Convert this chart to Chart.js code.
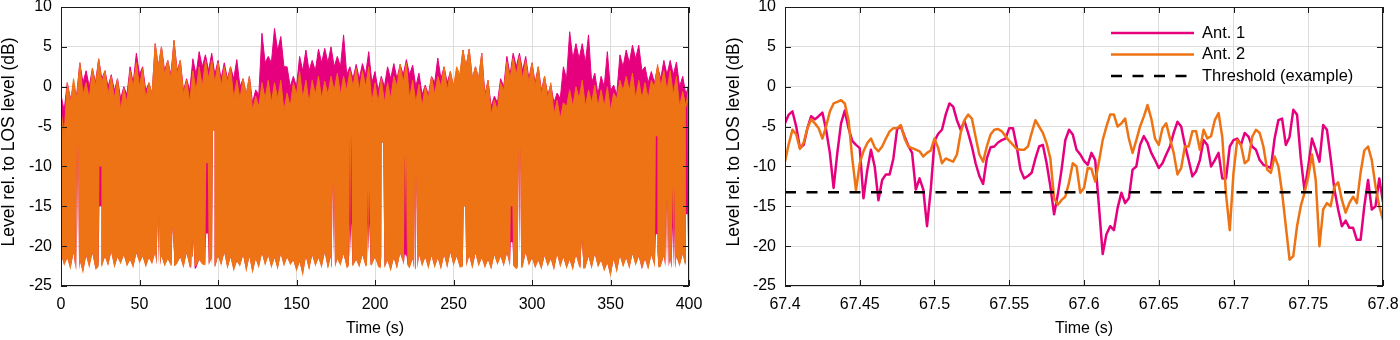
<!DOCTYPE html>
<html>
<head>
<meta charset="utf-8">
<script src="https://cdn.jsdelivr.net/npm/chart.js@4.4.1/dist/chart.umd.min.js"></script>
<style>
  html, body { margin: 0; padding: 0; background: #fff; }
  #wrap { position: relative; width: 1400px; height: 340px; }
  .panel { position: absolute; top: 0; height: 340px; }
</style>
</head>
<body>
<div id="wrap">
  <div class="panel" style="left:0;width:720px"><canvas id="chartFull"></canvas></div>
  <div class="panel" style="left:700px;width:700px"><canvas id="chartZoom"></canvas></div>
</div>
<script>
// --- full record (0-400 s), read off every 4 s:
// peaks at 0,4,8.., dips between peaks and troughs at 2,6,10..
const fullStep = 4;
const ant1Peaks = [-1, 0.5, 0, 3, 2, 2.3, 3.5, 2, 1.5, 1, 0, 2.5, 4.2, 2.5, 0.5, 5.4, 5, 3.3, 5.8, 3.3,
  1, 3.5, 4.4, 4, 4.2, 3.3, 3, 2.5, 3.4, 1, 1.3, -0.4, 6.7, 3.8, 7.3, 6.3, 2.5, 1.3, 3.8, 4.6,
  3.3, 4.7, 4.8, 5, 3.8, 6.5, 2.5, 2.8, 2.9, 4.4, 1.9, 1.3, 2.5, 2.9, 2.8, 3.4, 2.7, 1.7, 0.2, 1.3,
  3.6, 2.5, 1.9, 1.7, 4.6, 4.7, 2.5, 4.2, 0.8, -1.2, 1, 3.8, 4.2, 4.2, 3.8, 3, 2.5, 1.3, 0.2, -0.8,
  2.5, 6.9, 5.4, 5.4, 6.5, 1.7, 1.3, 4.4, 0.2, 4, 4.6, 5.2, 5.2, 2.5, 1.9, 2.5, 3.3, 3.3, 3.1, 1.3, 0.3];
const ant1Dips = [-3, -1.5, -1, 0.5, 0, 0.5, 1, 0, -0.5, -1.5, -1, 0.5, 1.5, -0.5, -1, 2.5, 2, 1.5, 2, -0.5,
  -0.5, 1.5, 2.5, 2, 1.5, 1, 1, 1, 0, -1, -2, -1, 3, 3, 4.5, 2.5, 0, 0, 2, 2,
  2, 3, 3, 2.5, 2.5, 1.5, 1, 1, 1.5, 0.5, -0.5, 0, 1, 1, 1.5, 1.5, 0, -1, -1, 0.5,
  1, 0.5, 0, 1, 2.5, 1, 1, -1, -2.5, -2, 0, 1.5, 2.5, 2, 1, 0.5, -0.5, -1, -2, -1.5,
  1, 3.5, 3.5, 3, 0.5, -1, 0, -0.5, -1, 2.5, 3, 3.5, 2, 0.5, 0.5, 1, 1.5, 1.5, 0, -1];
const ant1Troughs = [-22.3, -22.8, -22.9, -23.2, -22.5, -22.8, -22.4, -22.4, -22.6, -22.1, -22.4, -22.6, -22, -22.5, -22.1, -22.3, -22.4, -22.3, -22, -22.6,
  -22.5, -22.8, -22.1, -22.2, -22.4, -22.3, -22.7, -23, -22.4, -23.1, -23.3, -22.6, -22.3, -22.6, -22.8, -22.4, -22.2, -23, -23.6, -22.9,
  -22.4, -22.6, -22.7, -22.5, -22.3, -22.6, -22.3, -22.5, -22.4, -22.2, -22.4, -22.6, -23, -22.7, -22.2, -22.6, -22.7, -22.4, -22.7, -22.6,
  -22.8, -22.6, -22.3, -22.5, -22.4, -22.7, -22.4, -22.6, -22.8, -22.2, -22.4, -22.3, -22.7, -22.5, -22.3, -22.6, -22.8, -22.4, -22.9, -22.5,
  -22.7, -22.9, -22.4, -22.6, -22.7, -22.5, -23, -23.7, -23.2, -22.5, -22.7, -22.3, -22.9, -22.8, -22.5, -22.4, -22.6, -22.8, -22.4, -22.1];
const ant2Peaks = [-3, 0.5, 1, 3, 0.5, 2.3, 3.5, 2, 1.3, 1, -0.2, 2, 3, 2.3, 0.5, 5.4, 5, 3.3, 5.8, 3.3,
  0.8, 2, 2.5, 3.3, 3.3, 3, 2.5, 2.5, 0.8, 1, 1.3, -1.2, 0.5, 0.8, 0.5, 0.8, -0.8, 0.5, 1.9, 0.8,
  0.8, 1.3, 0.7, 1.3, 1.7, 1.3, 2, 2.3, 2, 2.5, 0.5, 1, 0.5, 1.3, 2.8, 3, 0.8, 0.3, 0, 1.3,
  1.3, 2.5, 1.9, 2.5, 4.6, 4.7, 2.5, 4.2, 0.8, -1.7, 0.5, 3.1, 3.6, 3.8, 3.3, 3, 2.5, 1.3, 0.5, -1.7,
  -2, -0.4, 0, 0.8, -0.4, 0.2, -0.4, 0, -0.8, 0.8, 1.3, 1.7, 0.8, 0.5, 0.8, 2.8, 2, 2, 1.3, -0.6, 0];
const ant2Dips = [-6, -2, -1.5, -1, -1.5, 0, 0.5, -1, -1.5, -3, -2, 0, 0, -1.5, -1, 2.5, 1.5, 1, 1.5, -1,
  -2, -0.5, 0, 1, 0.5, 0, 0.5, -1.5, -1.5, -1, -3, -2.5, -1.5, -2, -1.5, -3, -2.5, -1, -1.5, -2,
  -1, -1.5, -1, -0.5, -1, -0.5, 0, -0.5, 0, -2, -2, -2, -1.5, 0, 0.5, -1.5, -2, -2.5, -1.5, -1,
  0, -0.5, 0, 1.5, 2.5, 1, 1, -1.5, -3.5, -3, -0.5, 1, 1.5, 1, 0.5, 0, -1, -1.5, -3.5, -4,
  -2.5, -2.5, -1.5, -2.5, -2, -2.5, -2.5, -3, -1.5, -0.5, -0.5, -1.5, -1.5, -1.5, 0, 0, -0.5, -1, -2.5, -2.5];
const ant2Troughs = [-22.5, -23, -23, -23.5, -22.8, -23, -22.6, -22.5, -22.8, -22.3, -22.6, -22.8, -22.2, -22.7, -22.3, -22.4, -22.6, -22.5, -22.2, -22.8,
  -22.7, -22.5, -22.3, -22.4, -22.6, -22.5, -22.9, -23.2, -22.6, -23.3, -23.5, -22.8, -22.5, -22.8, -23, -22.6, -22.4, -23.2, -23.8, -23.1,
  -22.6, -22.8, -22.9, -22.7, -22.5, -22.8, -22.5, -22.7, -22.6, -22.4, -22.6, -22.8, -23.2, -22.9, -22.4, -22.8, -22.9, -22.6, -22.9, -22.8,
  -23, -22.8, -22.5, -22.7, -22.6, -22.9, -22.6, -22.8, -23, -22.4, -22.6, -22.5, -22.9, -22.7, -22.5, -22.8, -23, -22.6, -23.1, -22.7,
  -22.9, -23.1, -22.6, -22.8, -22.9, -22.7, -23.2, -23.9, -23.4, -22.7, -22.9, -22.5, -22.8, -23, -22.7, -22.6, -22.5, -22.8, -22.6, -22.3];
// small rises of the lower edge between troughs (at 0,4,8..), both antennas
const lowerRises = [-21, -21.5, -20.8, -21.8, -21.2, -20.9, -21.6, -21.3, -20.7, -21.4,
  -21.1, -21.7, -20.9, -21.3, -21.5, -20.8, -21.2, -21.6, -21, -21.4,
  -20.9, -21.3, -21.7, -21, -21.5, -21.2, -20.8, -21.4, -21.9, -21.1,
  -21.3, -21.6, -20.9, -21.2, -21.5, -21, -21.4, -21.8, -22, -21.3,
  -21.1, -21.5, -20.8, -21.2, -21.6, -21, -21.3, -21.7, -21.1, -20.9,
  -21.4, -21.2, -21.8, -21.5, -20.9, -21.3, -21.6, -21, -21.4, -21.2,
  -21.5, -21.1, -20.8, -21.3, -21.6, -21.2, -20.9, -21.5, -21.7, -21.1,
  -21.3, -20.9, -21.4, -21.2, -20.8, -21.5, -21.8, -21.2, -21.6, -21,
  -21.4, -21.7, -21.1, -21.5, -21.3, -21, -21.8, -22.1, -21.6, -21.2,
  -21.5, -21, -21.3, -21.6, -21.1, -20.9, -21.2, -21.5, -21.3, -21, -21.2];
// short fades where the level stays high (the thin vertical gaps)
const fadeTimes = [10.4, 25, 62, 71.5, 84, 93, 97.3, 173.5, 184.4, 196, 204.7, 219.5, 226, 257, 287, 292, 332, 379.4, 386, 390, 398.5];
const ant1FadeTops = [-7, -15, -16, -17.5, -19, -18.4, -5.5, -12, -17, -17, -7, -21, -11, -15, -19.5, -7.5, -19, -18.5, -14, -17.5, -16];
const ant2FadeTops = [-7, -10, -16, -17.5, -19, -9.6, -5.5, -12, -5.8, -12.9, -7, -8.4, -11, -15, -15, -7.5, -19, -6.2, -14, -12.5, -2];

// --- zoomed window (67.4-67.8 s), one value every 2.5 ms
const zoomStart = 67.4;
const zoomStep = 0.0025;
const ant1Zoom = [-4.6, -3.5, -3.1, -5, -7.7, -7.3, -5.2, -3.7, -4.1, -3.7, -3.25, -5.4, -8.3, -12.7, -8.3, -4.6, -3, -5.2, -6.8, -7.3,
  -7.7, -14, -10.5, -7.9, -10, -14.25, -11.7, -11, -11, -9, -5.3, -5, -6.25, -7.4, -8.3, -12.9, -11.5, -12.9, -17.5, -12.9,
  -6.8, -5.9, -5.4, -3.5, -2.1, -2.5, -4.2, -5.4, -4.3, -5.8, -7.5, -9.6, -11.2, -12.2, -9, -7.6, -7.5, -7, -6.7, -6.5,
  -5.2, -5.2, -7.5, -10.4, -11.5, -11.2, -10.8, -9, -7.5, -7.3, -9.6, -12.5, -16, -13.5, -10.4, -6.7, -5.4, -6, -7.9, -8.5,
  -9.3, -9.8, -8.3, -9.2, -15, -21, -18.5, -17.5, -18, -15.2, -13.3, -14.6, -14, -10.4, -10, -7.3, -6.2, -7, -8.3, -9.2,
  -10.2, -9.6, -8.5, -7.5, -5.8, -4.4, -5, -7.3, -9.2, -11.25, -10.6, -9.2, -6.7, -7.3, -10, -9.2, -8.3, -11.5, -11.5, -7.5,
  -6.7, -6.5, -7.3, -5.8, -6.25, -7.5, -7.9, -9.2, -9.8, -10, -10.2, -6.5, -4.2, -4, -7.3, -6.3, -2.9, -3.5, -9, -13,
  -10, -6.5, -7.9, -9.4, -4.8, -5.4, -9, -12.9, -15.4, -17.5, -16.8, -17.7, -17.7, -19.2, -19.2, -15, -11.7, -15.4, -15, -11.5,
  -14.5];
const ant2Zoom = [-9.4, -7.2, -5.4, -6, -7.8, -7, -5.2, -4.1, -4.6, -5.2, -6.5, -5, -3.1, -2.1, -1.9, -1.7, -2.1, -4.2, -9, -13,
  -9.6, -8.1, -7.1, -6.5, -7.6, -8.1, -7.5, -6.5, -5.6, -5.2, -5.2, -4.8, -6.5, -7.5, -7.7, -7.9, -8.1, -8.75, -8.3, -8,
  -6.5, -7.7, -9.6, -9, -9.2, -9.4, -8.5, -5.8, -4.2, -3.5, -4, -6.3, -8.5, -9.4, -7.5, -6, -5.4, -5.3, -5.6, -6.2,
  -6.8, -7.3, -7.8, -7.9, -7.9, -7.5, -5.8, -4.2, -5, -5.8, -7.1, -9, -14, -14.8, -14.2, -13.8, -12, -9.6, -10, -13.3,
  -12.7, -10.2, -10.3, -11.9, -9.4, -6.7, -5, -3.5, -3.5, -5, -4.6, -4, -6.5, -8.3, -6.7, -5, -3.75, -2.3, -4, -6.5,
  -7.3, -5.2, -4.6, -6.5, -8.3, -11, -10.2, -7.5, -7.5, -5.6, -5.6, -7.9, -5.4, -6.5, -6.2, -4.2, -3.3, -6.3, -13.5, -18,
  -10.8, -6.7, -7.3, -9.6, -9.2, -6.3, -5.4, -5.8, -7.5, -10.4, -10.8, -8.75, -10, -13.3, -17.5, -21.7, -21.25, -17.5, -15, -13.3,
  -11.3, -8.5, -11.7, -20, -15.4, -14.6, -15, -12.5, -12, -14.2, -15.8, -14.6, -13.8, -14.6, -10.8, -8, -7.5, -9.2, -12.5, -15,
  -16.7];
const thresholdDb = -13.25;

// axes
const yTicks = [-25, -20, -15, -10, -5, 0, 5, 10];
const xTicksFull = [0, 50, 100, 150, 200, 250, 300, 350, 400];
const xTicksZoom = [67.4, 67.45, 67.5, 67.55, 67.6, 67.65, 67.7, 67.75, 67.8];
const yTitle = 'Level rel. to LOS level (dB)';

const MAGENTA = '#E6007E';
const ORANGE = '#EE7314';
const FONT = '"Liberation Sans", Arial, Helvetica, sans-serif';
Chart.defaults.font.family = FONT;
Chart.defaults.color = '#000';

// upper edge: peak, dip, peak, dip ...
function upperEdge(peaks, dips) {
  const pts = [];
  peaks.forEach((p, i) => {
    pts.push({ x: i * fullStep, y: p });
    if (i < dips.length) pts.push({ x: i * fullStep + fullStep / 2, y: dips[i] });
  });
  return pts;
}
// lower edge: troughs and rises, with each fade cut in as a narrow notch
function lowerEdge(troughs, fadeTops) {
  const pts = troughs.map((v, i) => ({ x: i * fullStep + fullStep / 2, y: v }));
  lowerRises.forEach((v, i) => pts.push({ x: i * fullStep, y: v }));
  fadeTimes.forEach((t, i) => {
    const floor = troughs[Math.min(troughs.length - 1, Math.round((t - 2) / fullStep))];
    pts.push({ x: t - 1.1, y: floor }, { x: t - 0.5, y: fadeTops[i] },
             { x: t + 0.5, y: fadeTops[i] }, { x: t + 1.1, y: floor });
  });
  return pts.sort((a, b) => a.x - b.x);
}
const zoomLine = vals => vals.map((v, i) => ({ x: zoomStart + i * zoomStep, y: v }));

// box round the plot with inward ticks, plus the rotated y title
const framePlugin = {
  id: 'frame',
  afterDatasetsDraw(chart, args, opts) {
    const { ctx, chartArea: a, scales } = chart;
    const len = 6;
    ctx.save();
    ctx.strokeStyle = '#1a1a1a';
    ctx.lineWidth = 1;
    ctx.beginPath();
    scales.x.ticks.forEach(t => {
      const px = Math.round(scales.x.getPixelForValue(t.value)) + 0.5;
      ctx.moveTo(px, a.bottom); ctx.lineTo(px, a.bottom - len);
      ctx.moveTo(px, a.top); ctx.lineTo(px, a.top + len);
    });
    scales.y.ticks.forEach(t => {
      const py = Math.round(scales.y.getPixelForValue(t.value)) + 0.5;
      ctx.moveTo(a.left, py); ctx.lineTo(a.left + len, py);
      ctx.moveTo(a.right, py); ctx.lineTo(a.right - len, py);
    });
    ctx.stroke();
    ctx.strokeRect(Math.round(a.left) + 0.5, Math.round(a.top) + 0.5,
      Math.round(a.right - a.left) - 1, Math.round(a.bottom - a.top) - 1);

    ctx.translate(opts.titleX, 142);
    ctx.rotate(-Math.PI / 2);
    ctx.font = '17.5px ' + FONT;
    ctx.fillStyle = '#000';
    ctx.textAlign = 'center';
    ctx.textBaseline = 'middle';
    ctx.fillText(yTitle, 0, 0);
    ctx.restore();
  }
};

// legend drawn inside the plot, top right
const insideLegend = {
  id: 'insideLegend',
  afterDraw(chart) {
    const { ctx, chartArea: a } = chart;
    const rows = [
      { label: 'Ant. 1', color: MAGENTA, dash: [] },
      { label: 'Ant. 2', color: ORANGE, dash: [] },
      { label: 'Threshold (example)', color: '#000', dash: [11, 10.5] }
    ];
    ctx.save();
    ctx.font = '16.5px ' + FONT;
    ctx.textBaseline = 'middle';
    rows.forEach((r, i) => {
      const y = a.top + 26 + i * 21.5;
      ctx.strokeStyle = r.color;
      ctx.lineWidth = 2.5;
      ctx.setLineDash(r.dash);
      ctx.beginPath();
      ctx.moveTo(a.right - 272, y);
      ctx.lineTo(a.right - 189, y);
      ctx.stroke();
      ctx.setLineDash([]);
      ctx.fillStyle = '#000';
      ctx.fillText(r.label, a.right - 181, y);
    });
    ctx.restore();
  }
};

function makeOptions(xMin, xMax, xTicks, yWidth, padRight, titleX, fmtX) {
  return {
    responsive: true,
    maintainAspectRatio: false,
    animation: false,
    parsing: false,
    normalized: true,
    layout: { padding: { top: 7, right: padRight, left: 0, bottom: 0 } },
    plugins: { legend: { display: false }, tooltip: { enabled: false }, frame: { titleX: titleX } },
    elements: { point: { radius: 0 }, line: { tension: 0 } },
    scales: {
      x: {
        type: 'linear', min: xMin, max: xMax,
        afterBuildTicks: s => { s.ticks = xTicks.map(v => ({ value: v })); },
        afterFit: s => { s.height = 54; s.paddingLeft = 0; s.paddingRight = 0; },
        grid: { color: '#dcdcdc', lineWidth: 1, drawTicks: false },
        border: { display: false },
        ticks: { font: { size: 16 }, padding: 9, maxRotation: 0, autoSkip: false, callback: fmtX },
        title: { display: true, text: 'Time (s)', font: { size: 16 }, padding: { top: 0, bottom: 2 } }
      },
      y: {
        min: -25, max: 10,
        afterBuildTicks: s => { s.ticks = yTicks.map(v => ({ value: v })); },
        afterFit: s => { s.width = yWidth; s.paddingTop = 0; s.paddingBottom = 0; },
        grid: { color: '#dcdcdc', lineWidth: 1, drawTicks: false },
        border: { display: false },
        ticks: { font: { size: 16 }, padding: 9, callback: v => String(v) }
      }
    }
  };
}

// left: each antenna is a band filled between its upper and lower edges
new Chart(document.getElementById('chartFull'), {
  type: 'line',
  data: {
    datasets: [
      { label: 'Ant. 2', data: upperEdge(ant2Peaks, ant2Dips), borderColor: ORANGE, backgroundColor: ORANGE,
        borderWidth: 1, fill: '+1', order: 0 },
      { label: 'Ant. 2 low', data: lowerEdge(ant2Troughs, ant2FadeTops), borderWidth: 0, fill: false, order: 1 },
      { label: 'Ant. 1', data: upperEdge(ant1Peaks, ant1Dips), borderColor: MAGENTA, backgroundColor: MAGENTA,
        borderWidth: 1, fill: '+1', order: 2 },
      { label: 'Ant. 1 low', data: lowerEdge(ant1Troughs, ant1FadeTops), borderWidth: 0, fill: false, order: 3 }
    ]
  },
  options: makeOptions(0, 400, xTicksFull, 61, 31, 9.5, v => String(v)),
  plugins: [framePlugin]
});

new Chart(document.getElementById('chartZoom'), {
  type: 'line',
  data: {
    datasets: [
      { label: 'Threshold (example)', data: [{ x: 67.4, y: thresholdDb }, { x: 67.8, y: thresholdDb }],
        borderColor: '#000', borderWidth: 2.5, borderDash: [11, 10.5], order: 0 },
      { label: 'Ant. 2', data: zoomLine(ant2Zoom), borderColor: ORANGE, borderWidth: 2.5, borderJoinStyle: 'round', order: 1 },
      { label: 'Ant. 1', data: zoomLine(ant1Zoom), borderColor: MAGENTA, borderWidth: 2.5, borderJoinStyle: 'round', order: 2 }
    ]
  },
  options: makeOptions(67.4, 67.8, xTicksZoom, 85, 17, 34.5, v => String(+v.toFixed(2))),
  plugins: [framePlugin, insideLegend]
});
</script>
</body>
</html>
